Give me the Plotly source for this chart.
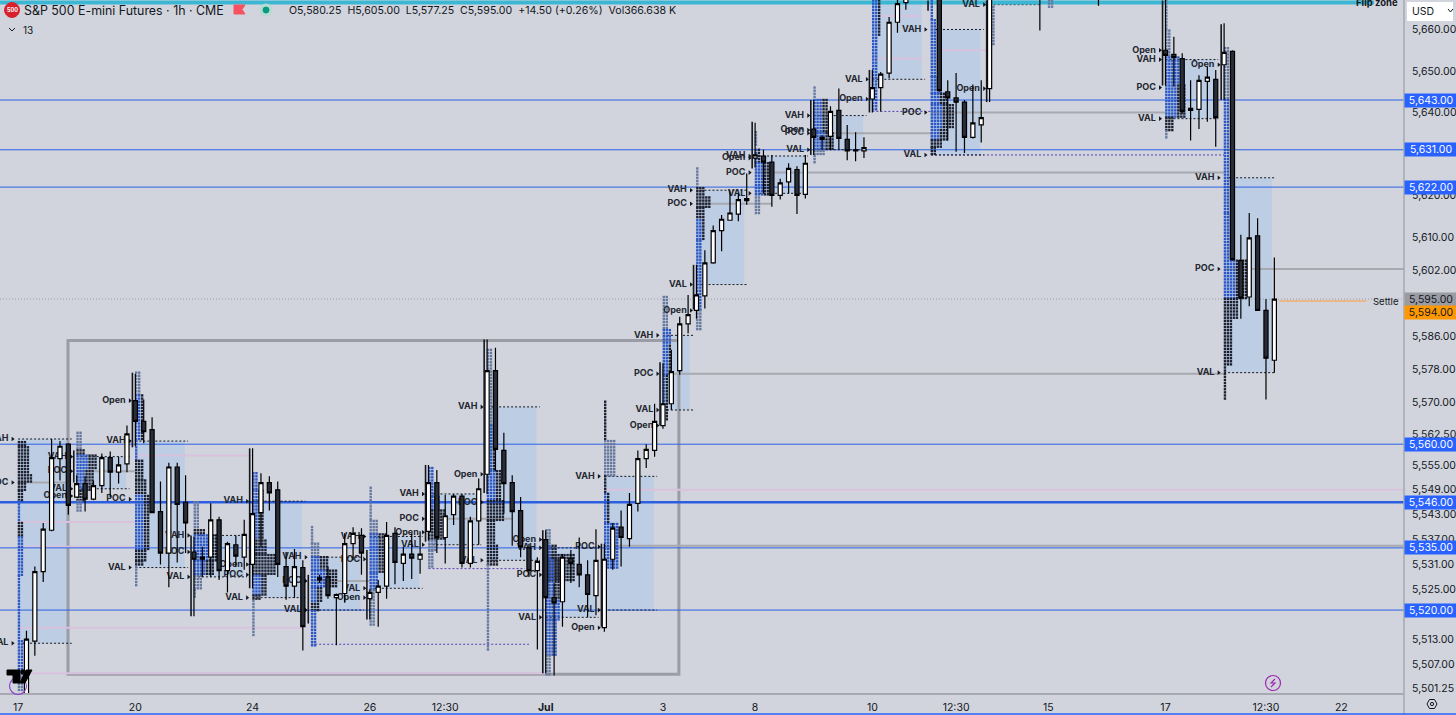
import plotly.graph_objects as go

# candles (x is the bar number, 0 = the "17" tick)
candle_idx = list(range(1, 35)) + list(range(36, 107)) + list(range(110, 117)) + [122, 129] + list(range(137, 151))
opens = [5496, 5512.5, 5529.25, 5539.25, 5556.5, 5560, 5547.25, 5550.5, 5546.75, 5550,
         5556.75, 5553.25, 5555.25, 5570.5, 5565.5, 5563.5, 5543.75, 5533.75, 5554.5, 5546,
         5534, 5532.25, 5532.75, 5541.75, 5529.5, 5535.75, 5532.75, 5531, 5543.5, 5550.75,
         5549, 5530.5, 5525.75, 5530.25,
         5527.25, 5528, 5523, 5524, 5536, 5538, 5522.75, 5524.25, 5525.75, 5538.5,
         5531.25, 5533.5, 5532.25, 5539, 5550.75, 5537.5, 5543, 5547.5, 5531.25, 5541.5,
         5552.75, 5577.75, 5558.5, 5550.75, 5544, 5535, 5529.5, 5537, 5523, 5522,
         5532.5, 5531, 5528.5, 5523.5, 5515.75, 5532.25, 5540, 5537.25, 5545.75, 5556.5,
         5558.5, 5564.5, 5569.75, 5577.75, 5589, 5592.25, 5595.75, 5603.75, 5611.5, 5614,
         5615.5, 5618.75, 5629, 5629.5, 5628, 5620, 5623.25, 5626.25, 5620.25, 5636,
         5633.5, 5634.25, 5640.5, 5633.5, 5631, 5630.75, 5643.25, 5646, 5649.5, 5661.75,
         5666.5,
         5672, 5645, 5643.5, 5642.5, 5634, 5637, 5645.75,
         5672, 5672,
         5655, 5654, 5653, 5641, 5640.75, 5647.5, 5648, 5651.5, 5654.75, 5604.25,
         5595.5, 5610.25, 5592.25, 5580.25]
highs = [5515, 5530.5, 5541, 5561.25, 5560.75, 5560.25, 5552.5, 5552.25, 5551.25, 5557.75,
         5558.25, 5557, 5564.5, 5577, 5570.75, 5566.5, 5551, 5555.5, 5555.5, 5552.5,
         5537.75, 5535.25, 5545.75, 5542.5, 5536.5, 5538, 5541.75, 5559, 5553, 5552.25,
         5551, 5534, 5534.75, 5532,
         5528.5, 5530.5, 5524, 5538.5, 5540, 5539.75, 5525, 5527.25, 5541.25, 5540,
         5535.25, 5538.5, 5539, 5555, 5553.75, 5547.75, 5548, 5548, 5542.5, 5551.75,
         5585.25, 5583.25, 5562.75, 5552.5, 5547.25, 5536, 5532.75, 5539.25, 5526.5, 5533.5,
         5534.5, 5537.5, 5532, 5539.5, 5536, 5541, 5544, 5548.25, 5558.5, 5560,
         5569.75, 5579.5, 5582.75, 5590.75, 5596, 5603.25, 5606.75, 5612.75, 5615.25, 5621,
         5620.5, 5625.25, 5637.5, 5631, 5629.75, 5624, 5627.75, 5627, 5629.75, 5643,
         5634.5, 5641.5, 5645.75, 5637, 5635.25, 5634, 5650.25, 5649.75, 5663, 5669,
         5672,
         5674, 5647.75, 5649.5, 5643, 5646.75, 5647.75, 5672,
         5674, 5674,
         5670, 5658.25, 5654.25, 5647.75, 5649, 5651, 5650.25, 5661.5, 5655, 5610.5,
         5615.75, 5614.5, 5595, 5605]
lows = [5494, 5509, 5526.75, 5539, 5551.25, 5543, 5547.25, 5543.75, 5546.5, 5548.25,
        5547.25, 5550.5, 5553.25, 5559.5, 5560.25, 5543.5, 5531, 5525.5, 5531.5, 5533.75,
        5518.5, 5528, 5528, 5527.25, 5524.25, 5530.5, 5529.75, 5525.25, 5535.25, 5544,
        5528, 5522.5, 5523, 5510.25,
        5526.5, 5522.75, 5511.5, 5521.75, 5532, 5528.5, 5517.75, 5516, 5522.75, 5526.25,
        5527, 5527.5, 5528.75, 5536.75, 5533.75, 5531.25, 5540.5, 5530.25, 5530.25, 5535.75,
        5548, 5553.5, 5543.25, 5535.5, 5532.75, 5528, 5510.5, 5504.75, 5504.25, 5516,
        5526.5, 5525.5, 5518.25, 5518.75, 5514.75, 5529.75, 5530.5, 5535.25, 5543.75, 5554.25,
        5557, 5563.75, 5568.25, 5576.75, 5586.75, 5590.25, 5592.75, 5603.5, 5606.5, 5614,
        5613.75, 5617.75, 5626.75, 5620.5, 5617.25, 5619, 5620.5, 5615.5, 5619.25, 5629.75,
        5631, 5631, 5631, 5628.5, 5628.25, 5629, 5640, 5640.25, 5648.25, 5659.25,
        5664.75,
        5645, 5633.25, 5630.5, 5630.25, 5633.75, 5632.75, 5642.5,
        5659.75, 5665.75,
        5646.5, 5646.25, 5639.75, 5633.25, 5636, 5637.75, 5631.75, 5643, 5604.25, 5590.25,
        5593.25, 5592.25, 5570.75, 5577.25]
closes = [5513, 5529.25, 5539.5, 5556.75, 5559.5, 5545.25, 5550.5, 5546.75, 5550, 5556.75,
          5553.25, 5555, 5562.5, 5565.5, 5563, 5543.5, 5533.75, 5554.5, 5545.5, 5541,
          5532.25, 5532.75, 5541.75, 5529.5, 5536, 5533, 5538.25, 5543.25, 5550.75, 5548.25,
          5531, 5525.75, 5530.5, 5516,
          5527.75, 5523.5, 5523.75, 5536, 5538.5, 5533.75, 5524.25, 5525.75, 5538, 5531.5,
          5533.5, 5532.5, 5533.5, 5550.75, 5537.5, 5542.75, 5547.5, 5531.25, 5541.5, 5549.25,
          5577.75, 5558.75, 5550.5, 5543.75, 5535.25, 5529.5, 5531.75, 5523, 5521.75, 5532.75,
          5531.25, 5528.5, 5523.75, 5532, 5532.25, 5539.75, 5537.5, 5545.5, 5556.5, 5558.75,
          5565.5, 5569.75, 5577.5, 5589, 5591.25, 5596, 5603.75, 5611.5, 5614.25, 5615.75,
          5619, 5619.25, 5629.75, 5628, 5620, 5623, 5626.5, 5620, 5627.75, 5634,
          5634, 5640.25, 5633.75, 5630.75, 5630.75, 5631.5, 5646, 5649.25, 5661.75, 5666.25,
          5670,
          5645.25, 5643.5, 5642.5, 5634, 5637.5, 5638.75, 5670,
          5671, 5671,
          5653.75, 5653.25, 5640.25, 5640.5, 5647.75, 5648.5, 5638.75, 5654.5, 5604.5, 5595.25,
          5609.75, 5592.25, 5580.75, 5595]

# session profiles
session_start = [0, 7, 14, 21, 28, 35, 42, 49, 56, 63, 70, 77, 81, 88, 95, 102, 109, 116, 137, 144]
va_end = [6, 12.9, 19.9, 26.9, 33.9, 40.9, 47.9, 54.9, 61.9, 68.9, 75.9, 80.2, 86.7, 93.9, 100.9,
          107.9, 114.9, 121.6, 142.9, 149.7]
vah = [5561.25, 5557, 5560.75, 5538, 5546.25, 5532.75, 5537.75, 5548, 5569, 5535, 5552.25, 5586.25,
       5621.25, 5629.5, 5639.25, 5668, 5660, 5668, 5652.75, 5624.25]
val = [5512, 5549.25, 5530.25, 5528, 5523, 5520, 5525.25, 5535.75, 5532, 5518.25, 5520, 5568.25,
       5598.5, 5620.5, 5631, 5648, 5629.75, 5666, 5638.5, 5577.25]
poc = [5550.75, 5553.5, 5546.75, 5534, 5528.5, 5527, 5532.25, 5542, 5546, 5528.5, 5535.25, 5577,
       5618, 5625.5, 5635, None, 5640, None, 5646, 5602.25]
session_open = [None, 5547.5, 5570.5, None, 5531, None, 5523, 5538.75, 5552.75, 5537, 5515.75, 5564.5,
                5592.25, 5629, 5635.75, 5643.25, None, 5645.75, 5655, 5651.5]

# dark sliver at the left of each session's first bar
bar_idx = [7, 14, 21, 28, 35, 42, 49, 56, 63, 70, 77, 81, 88, 95, 102, 109, 116, 137, 144]
bar_top = [5558.5, 5577.25, 5538, 5559, 5528.5, 5534.5, 5555, 5585.25, 5539.25, 5536, 5579.75, 5603.25,
           5637.75, 5643, 5650.25, 5667, 5667, 5667, 5661.25]
bar_bot = [5550.75, 5559.25, 5518.5, 5525.25, 5516.75, 5517.75, 5536.5, 5548.25, 5504.75, 5516, 5564.5,
           5592.5, 5626.5, 5629.75, 5640, 5664.5, 5642.5, 5646.5, 5643]

# volume profile rows: session, top price, bottom price, dots per row, colour kind
profile_rows = [
    (0, 5560.5, 5559.5, 3, "d"), (0, 5559.25, 5552.75, 4, "d"), (0, 5552.5, 5550.75, 5, "d"),
    (0, 5550.5, 5549, 3, "d"), (0, 5548.75, 5546.5, 2, "d"), (0, 5546.25, 5541.25, 1, "b"),
    (0, 5541, 5537.75, 2, "d"), (0, 5537.5, 5528.5, 2, "b"), (0, 5528.25, 5512.75, 1, "b"),
    (0, 5512.5, 5505.5, 2, "b"), (0, 5505.25, 5500.75, 2, "g"),
    (7, 5562.75, 5558.75, 2, "g"), (7, 5558.5, 5557.5, 3, "d"), (7, 5557.25, 5553.75, 7, "m"),
    (7, 5553.5, 5549, 6, "m"), (7, 5548.75, 5546.5, 3, "d"), (7, 5546.25, 5543.5, 2, "g"),
    (14, 5577.25, 5572, 2, "g"), (14, 5571.75, 5561, 3, "m"), (14, 5560.75, 5556.25, 1, "b"),
    (14, 5556, 5551.5, 3, "d"), (14, 5551.25, 5547.75, 4, "d"), (14, 5547.5, 5534.5, 5, "m"),
    (14, 5534.25, 5532, 4, "d"), (14, 5531.75, 5530.75, 3, "d"), (14, 5530.5, 5525.5, 1, "g"),
    (21, 5546, 5539.5, 2, "g"), (21, 5539.25, 5538.25, 4, "d"), (21, 5538, 5532, 9, "m"),
    (21, 5531.75, 5528.5, 7, "m"), (21, 5528.25, 5525, 3, "g"), (21, 5524.75, 5523, 1, "g"),
    (28, 5553, 5549, 2, "b"), (28, 5548.75, 5537, 4, "m"), (28, 5536.75, 5533.5, 5, "d"),
    (28, 5533.25, 5528.5, 8, "d"), (28, 5528.25, 5523.75, 5, "m"), (28, 5523.5, 5522.5, 3, "d"),
    (28, 5522.25, 5513.75, 1, "g"),
    (35, 5540, 5536.25, 1, "g"), (35, 5536, 5533, 3, "g"), (35, 5532.75, 5529.75, 6, "m"),
    (35, 5529.5, 5525.5, 9, "m"), (35, 5525.25, 5521.75, 4, "m"), (35, 5521.5, 5520, 3, "d"),
    (35, 5519.75, 5511.5, 2, "b"),
    (42, 5549.5, 5541.75, 1, "g"), (42, 5541.5, 5538.5, 3, "g"), (42, 5538.25, 5529, 6, "m"),
    (42, 5528.75, 5525, 3, "b"), (42, 5524.75, 5516, 2, "g"),
    (49, 5554.25, 5547.5, 2, "b"), (49, 5547.25, 5544.25, 4, "m"), (49, 5544, 5537, 6, "d"),
    (49, 5536.75, 5534.5, 3, "g"), (49, 5534.25, 5530.25, 2, "g"),
    (56, 5582.75, 5564.75, 2, "g"), (56, 5564.5, 5553.75, 3, "m"), (56, 5553.5, 5546.5, 5, "m"),
    (56, 5546.25, 5541.75, 6, "d"), (56, 5541.5, 5535.75, 3, "d"), (56, 5535.5, 5531, 4, "d"),
    (56, 5530.75, 5510.25, 1, "g"),
    (63, 5533.25, 5527.25, 10, "d"), (63, 5539.25, 5535.75, 2, "g"), (63, 5535.5, 5532.25, 4, "m"),
    (63, 5532, 5522.5, 6, "m"), (63, 5522.25, 5517.75, 5, "b"), (63, 5517.5, 5509.25, 4, "b"),
    (63, 5509, 5504, 2, "g"),
    (70, 5570.25, 5561, 1, "d"), (70, 5560.75, 5552.5, 4, "g"), (70, 5552.25, 5548.25, 1, "d"),
    (70, 5548, 5541, 2, "m"), (70, 5540.75, 5529.75, 5, "b"),
    (77, 5595.5, 5587.75, 2, "g"), (77, 5587.5, 5584, 3, "b"), (77, 5583.75, 5576.75, 3, "m"),
    (77, 5576.5, 5565.75, 2, "m"),
    (81, 5626.5, 5622, 1, "g"), (81, 5621.75, 5619.75, 3, "d"), (81, 5619.5, 5617.25, 5, "d"),
    (81, 5617, 5614.25, 3, "d"), (81, 5614, 5609.25, 3, "m"), (81, 5609, 5592.5, 2, "b"),
    (81, 5592.25, 5587.5, 2, "g"),
    (88, 5635.25, 5631.75, 1, "g"), (88, 5631, 5628, 2, "m"), (88, 5627.75, 5619.75, 6, "m"),
    (88, 5619.5, 5615.75, 2, "g"),
    (95, 5646, 5643.25, 1, "g"), (95, 5643, 5635.25, 5, "m"), (95, 5635, 5631, 7, "m"),
    (95, 5630.75, 5629.75, 4, "g"), (95, 5629.5, 5628, 1, "g"),
    (102, 5667, 5658.25, 3, "m"), (102, 5658, 5640.75, 2, "b"),
    (109, 5667, 5662.5, 1, "b"), (109, 5662.25, 5648.75, 2, "b"), (109, 5648.5, 5644.75, 4, "b"),
    (109, 5644.5, 5642, 6, "m"), (109, 5641.75, 5636, 8, "m"), (109, 5635.75, 5633.5, 6, "m"),
    (109, 5633.25, 5631.75, 4, "d"), (109, 5631.5, 5629.5, 2, "d"),
    (116, 5665.5, 5656.25, 2, "g"), (123, 5667, 5665.5, 2, "g"),
    (137, 5667, 5660, 1, "g"), (137, 5659.75, 5653.5, 2, "g"), (137, 5653.25, 5646.75, 5, "b"),
    (137, 5646.5, 5639, 7, "m"), (137, 5638.75, 5635.75, 3, "d"), (137, 5635.5, 5633.5, 1, "g"),
    (144, 5655.5, 5643.25, 2, "g"), (144, 5643, 5615.75, 2, "b"), (144, 5615.5, 5604.5, 3, "b"),
    (144, 5604.25, 5595.25, 8, "m"), (144, 5595, 5590, 5, "d"), (144, 5589.75, 5578.75, 3, "d"),
    (144, 5578.5, 5570.75, 1, "d"),
]

# levels
level_prices = [5643, 5631, 5622, 5560, 5535, 5520]
thick_level = 5546
poc_lines = [(5602.25, 144, 165.5), (5577, 77, 144), (5625.5, 88, 144), (5640, 109, 137), (5635, 95, 109),
             (5535.5, 70, 165.5), (5618, 81, 90), (5527, 35, 42), (5542, 49, 59), (5550.75, 0, 6), (5553.5, 7, 14)]
pink_lines = [(5549, 70, 165.5), (5557.25, 14, 28), (5541.25, 0, 14), (5535.25, 0, 14), (5515.75, 0, 34),
              (5504.75, 0, 63), (5663.25, 102, 108), (5653, 102, 108), (5655, 110, 116)]
purple_lines = [(5511.75, 35, 61), (5530, 49, 60.5), (5640.25, 102, 109), (5629.75, 109, 144)]
flip_zone = 5666.5
settle = 5594.5
last_price = 5595

box_x = [5.96, 78.9]
box_y = [5504.5, 5585]

tick_idx = [0, 14, 28, 42, 51, 63, 77, 88, 102, 112, 123, 137, 149, 158]
tick_txt = ["17", "20", "24", "26", "12:30", "<b>Jul</b>", "3", "8", "10", "12:30", "15", "17", "12:30", "22"]
price_ticks = [5660, 5650, 5640, 5620, 5610, 5602, 5586, 5578, 5570, 5562.5, 5555, 5549, 5543, 5537, 5531,
               5525, 5513, 5507, 5501.25]
blue_tags = [5643, 5631, 5622, 5560, 5546, 5535, 5520]

BG = "#d1d4dc"
UI = "Inter"
X_RANGE = [-2.16, 165.48]
Y_RANGE = [5500.0, 5667.12]


def segs(rows):
    xs, ys = [], []
    for price, a, b in rows:
        xs += [a, b, None]
        ys += [price, price, None]
    return xs, ys


def px(x, y):
    # screen pixel to paper coordinates, for the chrome round the chart
    return x / 1404, (693 - y) / 693


fig = go.Figure()

# pink / POC / purple session lines sit under the dots
xs, ys = segs(pink_lines)
fig.add_scatter(x=xs, y=ys, mode="lines", line=dict(color="#d8c2de", width=2))
xs, ys = segs(poc_lines)
fig.add_scatter(x=xs, y=ys, mode="lines", line=dict(color="#a7a9b1", width=2))
xs, ys = segs([(p, X_RANGE[0], X_RANGE[1]) for p in level_prices])
fig.add_scatter(x=xs, y=ys, mode="lines", line=dict(color="#2c62e6", width=1))
fig.add_scatter(x=X_RANGE, y=[thick_level, thick_level], mode="lines", line=dict(color="#2c5fe0", width=2.5))
xs, ys = segs(purple_lines)
fig.add_scatter(x=xs, y=ys, mode="lines", line=dict(color="#5b3fb5", width=1, dash="2px,2px"))
xs, ys = segs([(p, s, e + 0.4) for p, s, e in zip(vah, session_start, va_end)] +
              [(p, s, e + 0.4) for p, s, e in zip(val, session_start, va_end)])
fig.add_scatter(x=xs, y=ys, mode="lines", line=dict(color="#15171f", width=1, dash="2px,2px"))

fig.add_scatter(x=[-3, 161.9, None, 166, 168], y=[flip_zone, flip_zone, None, flip_zone, flip_zone], mode="lines",
                line=dict(color="#3bb7d3", width=4))
fig.add_scatter(x=X_RANGE, y=[last_price, last_price], mode="lines",
                line=dict(color="#9a9ca6", width=1, dash="1px,2px"))
fig.add_scatter(x=[150.6, 161], y=[settle, settle], mode="lines", line=dict(color="#eeb47e", width=1.6))

# volume profile dots
colours = {"d": "#1c2030", "b": "#2c57c4", "g": "#66789f"}
dot_x, dot_y, dot_c = [], [], []
for start, top, bottom, cols, kind in profile_rows:
    price = top
    while price >= bottom:
        for c in range(cols):
            k = kind
            if kind == "m":
                k = "b" if c < (cols + 1) // 2 else "d"
            dot_x.append(start + 0.1 + c * 0.358)
            dot_y.append(price)
            dot_c.append(colours[k])
        price -= 0.75
fig.add_scatter(x=dot_x, y=dot_y, mode="markers",
                marker=dict(symbol="square", size=2.4, color=dot_c, line=dict(width=0)))

# session labels, the ones above the top of the picture are left out
lab_x, lab_y, lab_t = [], [], []
for name, values in (("VAH", vah), ("VAL", val), ("POC", poc), ("Open", session_open)):
    for s, v in zip(session_start, values):
        if v is not None and v < Y_RANGE[1]:
            lab_x.append(s)
            lab_y.append(v)
            lab_t.append(name)
fig.add_scatter(x=[v - 1.15 for v in lab_x], y=lab_y, text=lab_t, mode="text", textposition="middle left",
                textfont=dict(family=UI, size=9, color="#23262f", weight=700))
fig.add_scatter(x=[v - 0.65 for v in lab_x], y=lab_y, mode="markers",
                marker=dict(symbol="triangle-right", size=4, color="#15171f", line=dict(width=0)))

# candles go on an overlaid axis pair so that they draw above the dots
fig.add_candlestick(x=candle_idx, open=opens, high=highs, low=lows, close=closes, xaxis="x2", yaxis="y2",
                    whiskerwidth=0,
                    increasing=dict(fillcolor="#ffffff", line=dict(color="#000000", width=1.2)),
                    decreasing=dict(fillcolor="#2a2e39", line=dict(color="#000000", width=1.2)))
xs, ys = [], []
for i, t, b in zip(bar_idx, bar_top, bar_bot):
    xs += [i - 0.35, i - 0.35, None]
    ys += [t, b, None]
fig.add_scatter(x=xs, y=ys, mode="lines", line=dict(color="#15171f", width=1.6), xaxis="x2", yaxis="y2")

# value area shading and the grey box
for s, e, hi, lo in zip(session_start, va_end, vah, val):
    fig.add_shape(type="rect", x0=s, x1=e, y0=lo, y1=hi, fillcolor="#bdcde3", line_width=0, layer="below")
fig.add_shape(type="rect", x0=box_x[0], x1=box_x[1], y0=box_y[0], y1=box_y[1],
              line=dict(color="#9a9ca6", width=3), layer="below")


def note(x, y, text, size=11, color="#131722", anchor="left", **kw):
    a, b = px(x, y)
    fig.add_annotation(xref="paper", yref="paper", x=a, y=b, text=text, showarrow=False, xanchor=anchor,
                       yanchor="middle", font=dict(family=UI, size=size, color=color), **kw)


# price tags on the right axis
for p in blue_tags:
    fig.add_annotation(xref="paper", yref="y", x=1, y=p, text=f"{p:,.2f}", showarrow=False, xanchor="left",
                       width=52, height=13, bgcolor="#2962ff", borderpad=0,
                       font=dict(family=UI, size=10.5, color="#ffffff"))
fig.add_annotation(xref="paper", yref="y", x=1, y=5595, text="5,595.00", showarrow=False, xanchor="left",
                   width=52, height=13, bgcolor="#9a9ba3", borderpad=0, font=dict(family=UI, size=10.5, color="#131722"))
fig.add_annotation(xref="paper", yref="y", x=1, y=5591.75, text="5,594.00", showarrow=False, xanchor="left",
                   width=52, height=13, bgcolor="#ff9800", borderpad=0, font=dict(family=UI, size=10.5, color="#131722"))
note(1371, 301, "Settle", size=9.5)
note(1354, 3, "<b>Flip zone</b>", size=9.5)

# header
note(22, 10, "S&amp;P 500 E-mini Futures · 1h · CME", size=12.4)
note(287, 10, "O5,580.25  H5,605.00  L5,577.25  C5,595.00  +14.50 (+0.26%)  Vol366.638 K", size=10.6)
note(21, 30, "13", size=10)

# right and bottom chrome
x0, y0 = px(1404, 0)
x1, y1 = px(1404, 715)
fig.add_shape(type="line", xref="paper", yref="paper", x0=x0, x1=x1, y0=y0, y1=y1, line=dict(color="#a6a9b2", width=1.5))
x0, y0 = px(0, 714)
x1, y1 = px(1456, 714)
fig.add_shape(type="line", xref="paper", yref="paper", x0=x0, x1=x1, y0=y0, y1=y1, line=dict(color="#2962ff", width=1.5))
x0, y0 = px(1407, 2)
x1, y1 = px(1453, 21)
fig.add_shape(type="rect", xref="paper", yref="paper", x0=x0, x1=x1, y0=y0, y1=y1, fillcolor="#ffffff", line_width=0)
note(1410, 11, "USD", size=10.5)


def poly(points, fill=None, line=None, width=1, close=True):
    d = ""
    for k, (x, y) in enumerate(points):
        a, b = px(x, y)
        d += ("M" if k == 0 else "L") + f"{a:.5f},{b:.5f}"
    if close:
        d += "Z"
    fig.add_shape(type="path", xref="paper", yref="paper", path=d, fillcolor=fill, line=dict(color=line, width=width))


def circle(cx, cy, r, fill=None, line=None, width=1):
    x0, y0 = px(cx - r, cy - r)
    x1, y1 = px(cx + r, cy + r)
    fig.add_shape(type="circle", xref="paper", yref="paper", x0=x0, x1=x1, y0=y0, y1=y1, fillcolor=fill,
                  line=dict(color=line, width=width))


poly([(1448, 9), (1450.5, 12), (1453, 9)], line="#131722", width=1, close=False)
poly([(9, 28), (12, 31), (15, 28)], line="#131722", width=1, close=False)
circle(12, 10, 7.5, fill="#d9202d", line="#d9202d")
note(12, 10.5, "<b>500</b>", size=5.5, color="#ffffff", anchor="center")
poly([(234, 5), (245, 5), (242, 9.5), (245, 14), (234, 14)], fill="#f7525f", line="#f7525f")
circle(266, 10, 6, fill="#b5dcd2", line="#b5dcd2")
circle(266, 10, 3, fill="#089981", line="#089981")

# watermark and the small icons at the bottom
circle(18, 686, 8.5, line="#8e44c9", width=1.2)
poly([(7, 670), (20, 670), (20, 683), (13, 683), (13, 675), (7, 675)], fill="#000000", line="#000000")
circle(23, 672, 2.2, fill="#000000", line="#000000")
poly([(26, 670), (32, 670), (25, 683), (20, 683)], fill="#000000", line="#000000")
circle(1273, 683, 7.5, fill=BG, line="#9c27b0", width=1.2)
poly([(1275, 679), (1271, 683), (1275, 683), (1271, 687)], line="#9c27b0", width=1.2, close=False)
poly([(1427, 704), (1429.5, 699.5), (1434.5, 699.5), (1437, 704), (1434.5, 708.5), (1429.5, 708.5)],
     line="#131722", width=1)
circle(1432, 704, 1.6, line="#131722", width=1)

fig.update_layout(
    width=1456, height=715, showlegend=False, paper_bgcolor=BG, plot_bgcolor=BG,
    margin=dict(l=0, r=52, t=0, b=22),
    hovermode=False,
    xaxis=dict(range=X_RANGE, tickvals=tick_idx, ticktext=tick_txt, showgrid=False, zeroline=False,
               showline=True, linecolor="#a6a9b2", linewidth=1.5, ticks="outside", ticklen=4, tickcolor=BG,
               tickfont=dict(family=UI, size=10.5, color="#131722")),
    yaxis=dict(range=Y_RANGE, side="right", tickvals=price_ticks, ticktext=[f"{p:,.2f}" for p in price_ticks],
               showgrid=False, zeroline=False, ticks="outside", ticklen=5, tickcolor=BG,
               tickfont=dict(family=UI, size=10.5, color="#131722")),
    xaxis2=dict(range=X_RANGE, overlaying="x", visible=False, rangeslider=dict(visible=False)),
    yaxis2=dict(range=Y_RANGE, overlaying="y", visible=False),
)

fig.write_html("out.html", config={"displayModeBar": False},
               post_script="document.body.style.margin='0';document.body.style.overflow='hidden';")
